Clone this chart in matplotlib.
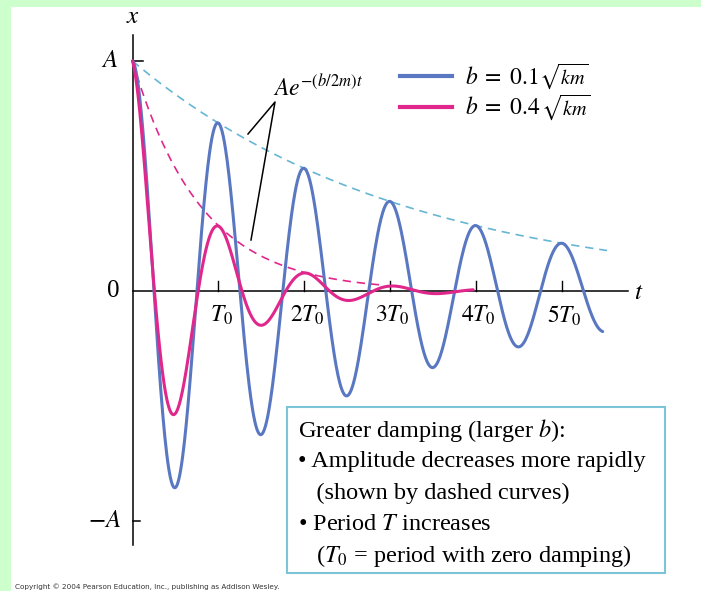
import numpy as np
import matplotlib
matplotlib.use("Agg")
import matplotlib.pyplot as plt
from matplotlib.lines import Line2D
from matplotlib.patches import Rectangle

plt.rcParams['mathtext.fontset'] = 'stix'
plt.rcParams['font.family'] = ['Liberation Serif', 'STIXGeneral', 'DejaVu Serif']

# ---- data ----
damping_labels = [r"$b\;=\;0.1$", r"$b\;=\;0.4$"]
damping_root = r"$\sqrt{km}$"
damping_b = [0.1, 0.4]          # b in units of sqrt(km)
curve_end = [5.48, 3.97]         # curve drawn up to this t (units of T0)
envelope_end = [5.53, 2.92]      # dashed envelope drawn up to this t (units of T0)
tick_positions = [1, 2, 3, 4, 5]
tick_labels = [r"$T_0$", r"$2T_0$", r"$3T_0$", r"$4T_0$", r"$5T_0$"]
box_lines = [
    r"Greater damping (larger $b$):",
    r"• Amplitude decreases more rapidly",
    r"   (shown by dashed curves)",
    r"• Period $T$ increases",
    r"   ($T_0$ = period with zero damping)",
]

solid_colors = ["#5a78c2", "#e0288c"]
dash_colors = ["#66b6d4", "#e0288c"]

W, H = 701, 591
fig = plt.figure(figsize=(W / 100, H / 100), dpi=100)
fig.patch.set_facecolor("white")


def fp(x, y):
    return (x / W, 1 - y / H)


# green frame strips
fig.patches.append(Rectangle((0, 1 - 7 / H), 1, 7 / H, transform=fig.transFigure,
                             facecolor="#ccffcc", edgecolor="none", zorder=0))
fig.patches.append(Rectangle((0, 0), 11 / W, 1, transform=fig.transFigure,
                             facecolor="#ccffcc", edgecolor="none", zorder=0))

ax = fig.add_axes([0, 0, 1, 1])
ax.set_facecolor("none")
ax.axis("off")
x0, sx = 132.5, 85.8   # pixel of t=0 and pixels per T0
y0, sy = 291.0, 230.0  # pixel of x=0 and pixels per A
ax.set_xlim(-x0 / sx, (W - x0) / sx)
ax.set_ylim((y0 - H) / sy, y0 / sy)

# axes
ax.plot([0, 0], [(y0 - 545) / sy, (y0 - 35) / sy], color="black", lw=1.1, zorder=2)
ax.plot([0, (628 - x0) / sx], [0, 0], color="black", lw=1.1, zorder=2)
ax.plot([0, 10 / sx], [1, 1], color="black", lw=1.1, zorder=2)
ax.plot([0, 7 / sx], [-1, -1], color="black", lw=1.1, zorder=2)
for tp, tl in zip(tick_positions, tick_labels):
    ax.plot([tp, tp], [0, 10 / sy], color="black", lw=1.0, zorder=2)
    ax.text(tp + 3 / sx, -13 / sy, tl, ha="center", va="top", fontsize=17)

ax.text(0, (y0 - 17) / sy, r"$x$", ha="center", va="center", fontsize=18)
ax.text((639 - x0) / sx, (y0 - 293) / sy, r"$t$", ha="center", va="center", fontsize=18)
ax.text(-19 / sx, 0, "0", ha="center", va="center", fontsize=18)
ax.text(-14 / sx, 1, r"$A$", ha="right", va="center", fontsize=18)
ax.text(-11 / sx, -1, r"$-A$", ha="right", va="center", fontsize=18)

# curves: x = A exp(-(b/2m)t) cos(w' t), with k = m = 1 so T0 = 2*pi
for b, te, ee, sc, dc in zip(damping_b, curve_end, envelope_end, solid_colors, dash_colors):
    gamma = b / 2.0
    wp = np.sqrt(1 - gamma ** 2)
    tau = np.linspace(0, te, 800)
    trad = 2 * np.pi * tau
    ax.plot(tau, np.exp(-gamma * trad) * np.cos(wp * trad), color=sc, lw=2.2,
            solid_capstyle="round", zorder=4)
    tau_e = np.linspace(0, ee, 300)
    ax.plot(tau_e, np.exp(-gamma * 2 * np.pi * tau_e), color=dc, lw=1.2,
            linestyle=(0, (5, 3.5)), zorder=3)

# annotation of envelope
ax.plot([(248 - x0) / sx, (275 - x0) / sx, (251 - x0) / sx],
        [(y0 - 134) / sy, (y0 - 102) / sy, (y0 - 240) / sy], color="black", lw=1.1, zorder=5)
fig.text(*fp(273, 88), r"$Ae^{-(b/2m)t}$", ha="left", va="center", fontsize=17)

# legend
renderer = fig.canvas.get_renderer()
for i, (lab, sc) in enumerate(zip(damping_labels, solid_colors)):
    yy = 77 + 30.5 * i
    fig.add_artist(Line2D([400 / W, 452 / W], [1 - (yy - 1) / H, 1 - (yy - 1) / H],
                          transform=fig.transFigure, color=sc, lw=3.0))
    t1 = fig.text(*fp(465, yy + 7), lab, ha="left", va="baseline", fontsize=17)
    bb = t1.get_window_extent(renderer)
    fig.text(bb.x1 / W + 1 / W, 1 - (yy + 7) / H, damping_root, ha="left",
             va="baseline", fontsize=14.5)

# text box
fig.patches.append(Rectangle(fp(287, 573), (665 - 287) / W, (573 - 407) / H,
                             transform=fig.transFigure, facecolor="white",
                             edgecolor="#7cc4d8", lw=1.5, zorder=6))
ys = [431, 462, 493, 524, 556]
for line, yy in zip(box_lines, ys):
    fig.text(*fp(298, yy), line, ha="left", va="center", fontsize=17.5, zorder=7)

fig.text(*fp(15, 587), "Copyright © 2004 Pearson Education, Inc., publishing as Addison Wesley.",
         ha="left", va="center", fontsize=5.2, family="DejaVu Sans", color="#333333")

fig.savefig("out.png", dpi=100)
